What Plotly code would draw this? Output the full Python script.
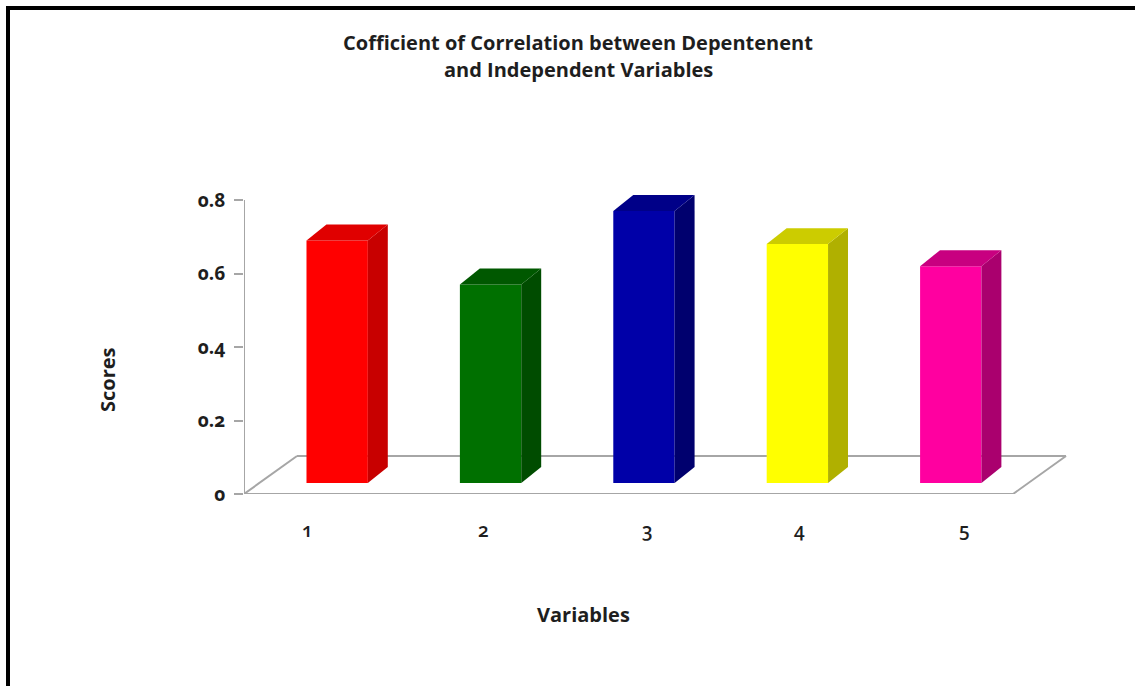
import plotly.graph_objects as go

# ---------------- data ----------------
categories = [1, 2, 3, 4, 5]
tick_labels = ["1", "2", "3", "4", "5"]
values = [0.69, 0.57, 0.77, 0.68, 0.62]
y_ticks = [0, 0.2, 0.4, 0.6, 0.8]
y_tick_labels = ["0", "0.2", "0.4", "0.6", "0.8"]
front_colors = ["#ff0000", "#007000", "#0000a8", "#ffff00", "#ff00a0"]
side_colors = ["#c80000", "#004c00", "#00006e", "#b0b000", "#aa006e"]
top_colors = ["#e00000", "#005800", "#000088", "#cccc00", "#c80080"]

title_lines = ["Cofficient of Correlation between Depentenent", "and Independent Variables"]
x_title = "Variables"
y_title = "Scores"

# ---------------- layout geometry ----------------
W, H = 1135, 686
ML, MR, MT, MB = 244, 0, 189, 192
X_RANGE = [0.4928, 6.3012]
Y_RANGE = [0, 0.83]
FLOOR_END = 5.506          # front-right corner of floor (x units)
FLOOR_DX, FLOOR_DY = 0.3455, 0.1034   # depth of the floor
BAR_SHIFT = 0.29           # fraction of floor depth where bar front sits
BAR_W = 0.40
BAR_DX, BAR_DY = 0.130, 0.0435        # bar depth
label_shift = [-0.091, 0.057, 0.120, 0.117, 0.187]

GRAY = "#a6a6a6"
FONT = "Open Sans"
TXT = "#1e1e1e"

PW = W - ML - MR
PH = H - MT - MB


def px_to_paper_x(px):
    return (px - ML) / PW


def px_to_paper_y(py):
    return (H - MB - py) / PH


fig = go.Figure()

# floor outline (drawn below the traces)
x0 = X_RANGE[0]
fx = [x0, FLOOR_END, FLOOR_END + FLOOR_DX, x0 + FLOOR_DX, x0]
fy = [0, 0, FLOOR_DY, FLOOR_DY, 0]
for i in range(4):
    fig.add_shape(type="line", xref="x", yref="y", x0=fx[i], x1=fx[i + 1],
                  y0=fy[i], y1=fy[i + 1], line=dict(color=GRAY, width=2), layer="below")

sx = BAR_SHIFT * FLOOR_DX
base = BAR_SHIFT * FLOOR_DY

# front faces
fig.add_trace(go.Bar(
    x=categories, y=[v - base for v in values], base=base,
    width=BAR_W, offset=-BAR_W / 2 + sx,
    marker=dict(color=front_colors, line=dict(width=0)),
    showlegend=False, hoverinfo="skip"))

# side and top faces
for c, v, sc, tc in zip(categories, values, side_colors, top_colors):
    xl = c - BAR_W / 2 + sx
    xr = c + BAR_W / 2 + sx
    fig.add_trace(go.Scatter(
        x=[xr, xr, xr + BAR_DX, xr + BAR_DX, xr],
        y=[base, v, v + BAR_DY, base + BAR_DY, base],
        fill="toself", fillcolor=sc, mode="lines", line=dict(width=0, color=sc),
        hoverinfo="skip", showlegend=False))
    fig.add_trace(go.Scatter(
        x=[xl, xr, xr + BAR_DX, xl + BAR_DX, xl],
        y=[v, v, v + BAR_DY, v + BAR_DY, v],
        fill="toself", fillcolor=tc, mode="lines", line=dict(width=0, color=tc),
        hoverinfo="skip", showlegend=False))

# y axis line (0 .. 0.8)
fig.add_shape(type="line", xref="x", yref="y", x0=x0, x1=x0, y0=0, y1=y_ticks[-1],
              line=dict(color=GRAY, width=2), layer="above")

# x tick labels
for c, lab, s in zip(categories, tick_labels, label_shift):
    fig.add_annotation(x=c + s, y=px_to_paper_y(530), xref="x", yref="paper",
                       text=lab, showarrow=False, xanchor="center", yanchor="middle",
                       font=dict(family=FONT, size=19, color=TXT, weight=600))

# titles
for txt, py in zip(title_lines, [42, 70]):
    fig.add_annotation(x=px_to_paper_x(578), y=px_to_paper_y(py), xref="paper", yref="paper",
                       text=txt, showarrow=False, xanchor="center", yanchor="middle",
                       font=dict(family=FONT, size=20, color=TXT, weight=700))
fig.add_annotation(x=px_to_paper_x(583), y=px_to_paper_y(614), xref="paper", yref="paper",
                   text=x_title, showarrow=False, xanchor="center", yanchor="middle",
                   font=dict(family=FONT, size=20, color=TXT, weight=700))
fig.add_annotation(x=px_to_paper_x(107), y=px_to_paper_y(380), xref="paper", yref="paper",
                   text=y_title, showarrow=False, xanchor="center", yanchor="middle",
                   textangle=-90,
                   font=dict(family=FONT, size=20, color=TXT, weight=700))

# frame lines (top and left)
fig.add_shape(type="line", xref="paper", yref="paper",
              x0=px_to_paper_x(6), x1=px_to_paper_x(W), y0=px_to_paper_y(8), y1=px_to_paper_y(8),
              line=dict(color="#000000", width=4))
fig.add_shape(type="line", xref="paper", yref="paper",
              x0=px_to_paper_x(8), x1=px_to_paper_x(8), y0=px_to_paper_y(6), y1=px_to_paper_y(H),
              line=dict(color="#000000", width=4))

fig.update_layout(
    width=W, height=H,
    margin=dict(l=ML, r=MR, t=MT, b=MB, autoexpand=False),
    paper_bgcolor="white", plot_bgcolor="white",
    showlegend=False,
    xaxis=dict(range=X_RANGE, showgrid=False, zeroline=False, showline=False,
               showticklabels=False, ticks="", fixedrange=True),
    yaxis=dict(range=Y_RANGE, showgrid=False, zeroline=False, showline=False,
               tickvals=y_ticks, ticktext=y_tick_labels, ticks="outside",
               ticklen=9, tickwidth=2, tickcolor=GRAY, ticklabelstandoff=5,
               tickfont=dict(family=FONT, size=19, color=TXT, weight=700),
               fixedrange=True),
)

post = ("var s=document.createElement('style');"
        "s.innerHTML='text{font-variant-numeric:oldstyle-nums;font-feature-settings:\"onum\" 1;}';"
        "document.head.appendChild(s);")
fig.write_html("out.html", post_script=post, config={"displayModeBar": False})
